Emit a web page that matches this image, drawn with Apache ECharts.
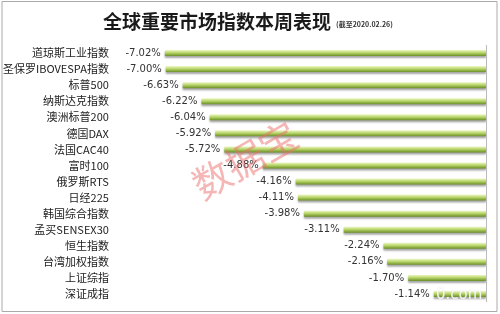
<!DOCTYPE html>
<html><head><meta charset="utf-8">
<script src="https://cdn.jsdelivr.net/npm/echarts@6/dist/echarts.min.js"></script>
<style>html,body{margin:0;padding:0;background:#fff}#c{width:500px;height:314px}</style>
</head><body><div id="c"></div>
<script>
const categories = ['道琼斯工业指数','圣保罗IBOVESPA指数','标普500','纳斯达克指数','澳洲标普200','德国DAX','法国CAC40','富时100','俄罗斯RTS','日经225','韩国综合指数','孟买SENSEX30','恒生指数','台湾加权指数','上证综指','深证成指'];
const values = [-7.02,-7.00,-6.63,-6.22,-6.04,-5.92,-5.72,-4.88,-4.16,-4.11,-3.98,-3.11,-2.24,-2.16,-1.70,-1.14];
const titleText = '全球重要市场指数本周表现';
const subText = '(截至2020.02.26)';

const chart = echarts.init(document.getElementById('c'));
chart.setOption({
  animation: false,
  backgroundColor: '#fff',
  title: {text: titleText, left: 98, top: 7,
    textStyle: {fontSize: 19, fontWeight: 'bold', color: '#1a1a1a', fontFamily: 'Noto Sans CJK SC'}},
  graphic: [
    {type: 'rect', shape: {x: 2, y: 1.5, width: 495, height: 310}, style: {fill: 'none', stroke: '#aaa', lineWidth: 1}, z: 100},
    {type: 'text', left: 336, top: 21, style: {text: subText, fontSize: 7, fontWeight: 'bold', fill: '#333', fontFamily: 'Noto Sans CJK SC'}},
    {type: 'text', x: 245, y: 160, rotation: Math.PI/6,
      style: {text: '数据宝', fontSize: 38, fill: 'rgba(235,110,110,0.5)', align: 'center', verticalAlign: 'middle', fontFamily: 'Noto Sans CJK SC'}, z: 50},
    {type: 'text', x: 436, y: 288, style: {text: '0.com', fontSize: 15, fill: 'rgba(255,255,255,0.85)', stroke: 'rgba(190,190,190,0.5)', lineWidth: 0.5, fontFamily: 'DejaVu Sans'}, z: 50}
  ],
  grid: {left: 136, right: 14, top: 45, height: 257},
  xAxis: {type: 'value', min: -7.5, max: 0, show: false},
  yAxis: {type: 'category', data: categories, inverse: true,
    axisLine: {show: false}, axisTick: {show: false},
    axisLabel: {margin: 34, fontSize: 11, color: '#222', fontFamily: 'Noto Sans CJK SC'}},
  series: [{
    type: 'bar', data: values, barWidth: 6,
    itemStyle: {
      color: new echarts.graphic.LinearGradient(0, 0, 0, 1, [
        {offset: 0, color: '#eef7c4'},
        {offset: 0.45, color: '#b9d66c'},
        {offset: 1, color: '#6a8f24'}
      ]),
      shadowColor: 'rgba(0,0,0,0.35)', shadowBlur: 2, shadowOffsetY: 2
    },
    label: {show: true, position: 'left', distance: 4, fontSize: 10, color: '#333',
      fontFamily: 'DejaVu Sans', formatter: p => p.value.toFixed(2) + '%'},
    markLine: {silent: true, symbol: 'none', label: {show: false},
      lineStyle: {color: '#bbb', type: 'solid', width: 1},
      data: [{xAxis: 0}]}
  }]
});
</script></body></html>
